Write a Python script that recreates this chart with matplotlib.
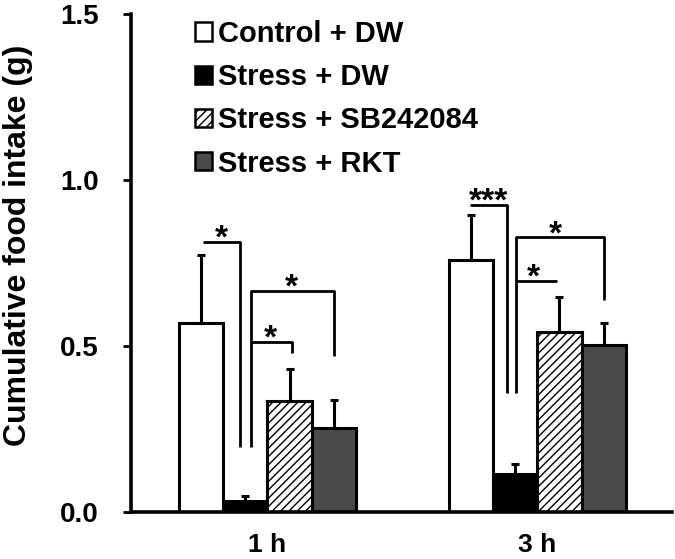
import matplotlib
matplotlib.use("Agg")
import matplotlib.pyplot as plt
from matplotlib.patches import Patch
import numpy as np

plt.rcParams['font.family'] = ['Liberation Sans', 'DejaVu Sans']
plt.rcParams['font.weight'] = 'bold'
plt.rcParams['hatch.linewidth'] = 1.0

groups = ["1 h", "3 h"]
series = ["Control + DW", "Stress + DW", "Stress + SB242084", "Stress + RKT"]
means = {
    "Control + DW":      [0.568, 0.760],
    "Stress + DW":       [0.033, 0.114],
    "Stress + SB242084": [0.334, 0.541],
    "Stress + RKT":      [0.252, 0.502],
}
errs = {
    "Control + DW":      [0.207, 0.136],
    "Stress + DW":       [0.015, 0.030],
    "Stress + SB242084": [0.096, 0.108],
    "Stress + RKT":      [0.085, 0.066],
}
yticks = [0.0, 0.5, 1.0, 1.5]
ytick_labels = ["0.0", "0.5", "1.0", "1.5"]

# significance brackets: (x points, y points) in data units, star label & position
brackets = [
    ([0.045, 0.88, 0.88], [0.813, 0.813, 0.196]),
    ([1.13, 1.13, 3.0, 3.0], [0.196, 0.666, 0.666, 0.47]),
    ([1.13, 2.05, 2.05], [0.512, 0.512, 0.479]),
    ([6.07, 6.91, 6.91], [0.925, 0.925, 0.358]),
    ([7.11, 7.11, 9.1, 9.1], [0.358, 0.828, 0.828, 0.639]),
    ([7.11, 8.04], [0.696, 0.696]),
]
stars = [("*", 0.47, 0.813), ("*", 2.05, 0.666), ("*", 1.57, 0.512),
         ("***", 6.49, 0.925), ("*", 8.0, 0.828), ("*", 7.5, 0.696)]

styles = {
    "Control + DW":      dict(facecolor="white", hatch=None),
    "Stress + DW":       dict(facecolor="black", hatch=None),
    "Stress + SB242084": dict(facecolor="white", hatch="////"),
    "Stress + RKT":      dict(facecolor="#4a4a4a", hatch=None),
}

fig = plt.figure(figsize=(6.75, 5.59), dpi=100)
ax = fig.add_axes([131/675, 1-512/559, (672-131)/675, (512-14)/559])

group_starts = np.array([0.0, 6.09])
lw = 2.2
handles = []
for i, s in enumerate(series):
    xs = group_starts + i
    st = styles[s]
    ax.bar(xs, means[s], width=1.0, facecolor=st["facecolor"], edgecolor="black",
           linewidth=lw, hatch=st["hatch"], zorder=2)
    ax.errorbar(xs, means[s], yerr=[np.zeros(len(xs)), errs[s]], fmt="none",
                ecolor="black", elinewidth=lw, capsize=3, capthick=lw, zorder=3)
    handles.append(Patch(facecolor=st["facecolor"], edgecolor="black",
                         linewidth=1.8, hatch=st["hatch"], label=s))

for bx, by in brackets:
    ax.plot(bx, by, color="black", lw=2.0, solid_capstyle="butt", zorder=4)
for txt, sx, sy in stars:
    ax.text(sx, sy - 0.018, txt, ha="center", va="baseline", fontsize=24, fontweight="bold")

ax.set_xlim(-1.58, 10.63)
ax.set_ylim(0, 1.5)
ax.set_yticks(yticks)
ax.set_yticklabels(ytick_labels)
ax.set_xticks(group_starts + 1.5)
ax.set_xticklabels(groups)
ax.tick_params(axis="x", length=0, pad=15, labelsize=19)
ax.tick_params(axis="y", length=6, width=2, pad=17, labelsize=20)
for sp in ["top", "right"]:
    ax.spines[sp].set_visible(False)
for sp in ["left", "bottom"]:
    ax.spines[sp].set_linewidth(2.6)

fig.text(18/675, 1-245/559, "Cumulative food intake (g)", rotation=90,
         ha="center", va="center", fontsize=23, fontweight="bold")

leg = ax.legend(handles=handles, loc="upper left", bbox_to_anchor=(195/675, 1-20/559),
                bbox_transform=fig.transFigure, frameon=False, fontsize=21,
                handlelength=0.6, handleheight=0.6, handletextpad=0.2,
                labelspacing=0.52, borderpad=0, borderaxespad=0)

fig.savefig("out.png", dpi=100)
